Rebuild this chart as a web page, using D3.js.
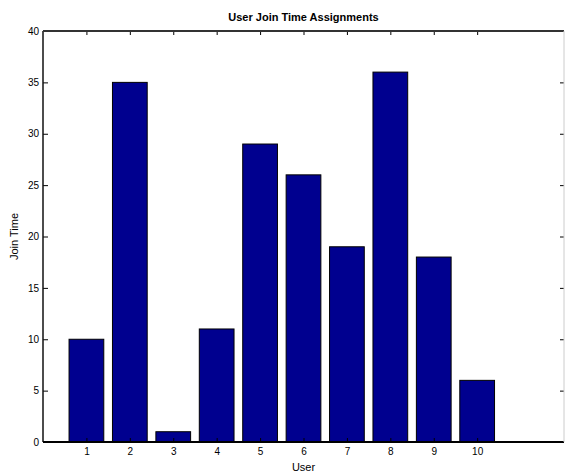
<!DOCTYPE html>
<html><head><meta charset="utf-8">
<script src="https://cdn.jsdelivr.net/npm/d3@7"></script>
<style>
html,body{margin:0;padding:0;background:#fff;}
text{font-family:"Liberation Sans",Arial,sans-serif;fill:#000;}
</style></head>
<body>
<svg id="c" width="565" height="474"></svg>
<script>
const users = [1,2,3,4,5,6,7,8,9,10];
const joinTimes = [10,35,1,11,29,26,19,36,18,6];
const yTicks = [0,5,10,15,20,25,30,35,40];
const xTicks = [1,2,3,4,5,6,7,8,9,10];
const titleText = "User Join Time Assignments";
const xLabel = "User";
const yLabel = "Join Time";

(function(){
const svg = d3.select("#c");
const L = 43, R = 564, T = 31, B = 442;
const x = d3.scaleLinear().domain([0,12]).range([L,R]);
const y = d3.scaleLinear().domain([0,40]).range([B,T]);
const bw = 0.8;

svg.append("rect").attr("x",0).attr("y",0).attr("width",565).attr("height",474).attr("fill","#fff");

// bars
svg.selectAll("rect.bar").data(users).enter().append("rect")
  .attr("class","bar")
  .attr("x",(d)=>x(d-bw/2))
  .attr("width",(d)=>x(d+bw/2)-x(d-bw/2))
  .attr("y",(d,i)=>y(joinTimes[i]))
  .attr("height",(d,i)=>y(0)-y(joinTimes[i]))
  .attr("fill","#00008F")
  .attr("stroke","#000")
  .attr("stroke-width",1);

// axes
const gLeft = svg.append("g").attr("transform",`translate(${L},0)`)
  .call(d3.axisLeft(y).tickValues(yTicks).tickSize(-5).tickPadding(4));
const gBottom = svg.append("g").attr("transform",`translate(0,${B})`)
  .call(d3.axisBottom(x).tickValues(xTicks).tickSize(-4).tickPadding(6));
const gTop = svg.append("g").attr("transform",`translate(0,${T})`)
  .call(d3.axisTop(x).tickValues(xTicks).tickSize(-4).tickFormat(""));
const gRight = svg.append("g").attr("transform",`translate(${R},0)`)
  .call(d3.axisRight(y).tickValues(yTicks).tickSize(-4).tickFormat(""));

[gLeft,gBottom,gTop,gRight].forEach(g=>{
  g.select(".domain").remove();
  g.selectAll(".tick line").attr("stroke","#000").attr("stroke-width",1);
  g.selectAll(".tick text").attr("font-size",10).attr("font-family","Liberation Sans, Arial, sans-serif").attr("fill","#000");
});

svg.append("line").attr("x1",L).attr("x2",L).attr("y1",T).attr("y2",B).attr("stroke","#111").attr("stroke-width",1.5);
svg.append("line").attr("x1",L).attr("x2",R).attr("y1",B).attr("y2",B).attr("stroke","#000").attr("stroke-width",2);
svg.append("line").attr("x1",L).attr("x2",R).attr("y1",T).attr("y2",T).attr("stroke","#333").attr("stroke-width",2);
svg.append("line").attr("x1",R).attr("x2",R).attr("y1",T).attr("y2",B).attr("stroke","#ccc").attr("stroke-width",1);

svg.append("text").attr("x",(L+R)/2).attr("y",21).attr("text-anchor","middle")
  .attr("font-size",11).attr("font-weight","bold").text(titleText);
svg.append("text").attr("x",(L+R)/2).attr("y",471).attr("text-anchor","middle")
  .attr("font-size",11).text(xLabel);
svg.append("text").attr("transform",`translate(18,${(T+B)/2}) rotate(-90)`).attr("text-anchor","middle")
  .attr("font-size",11).text(yLabel);
})();
</script>
</body></html>
